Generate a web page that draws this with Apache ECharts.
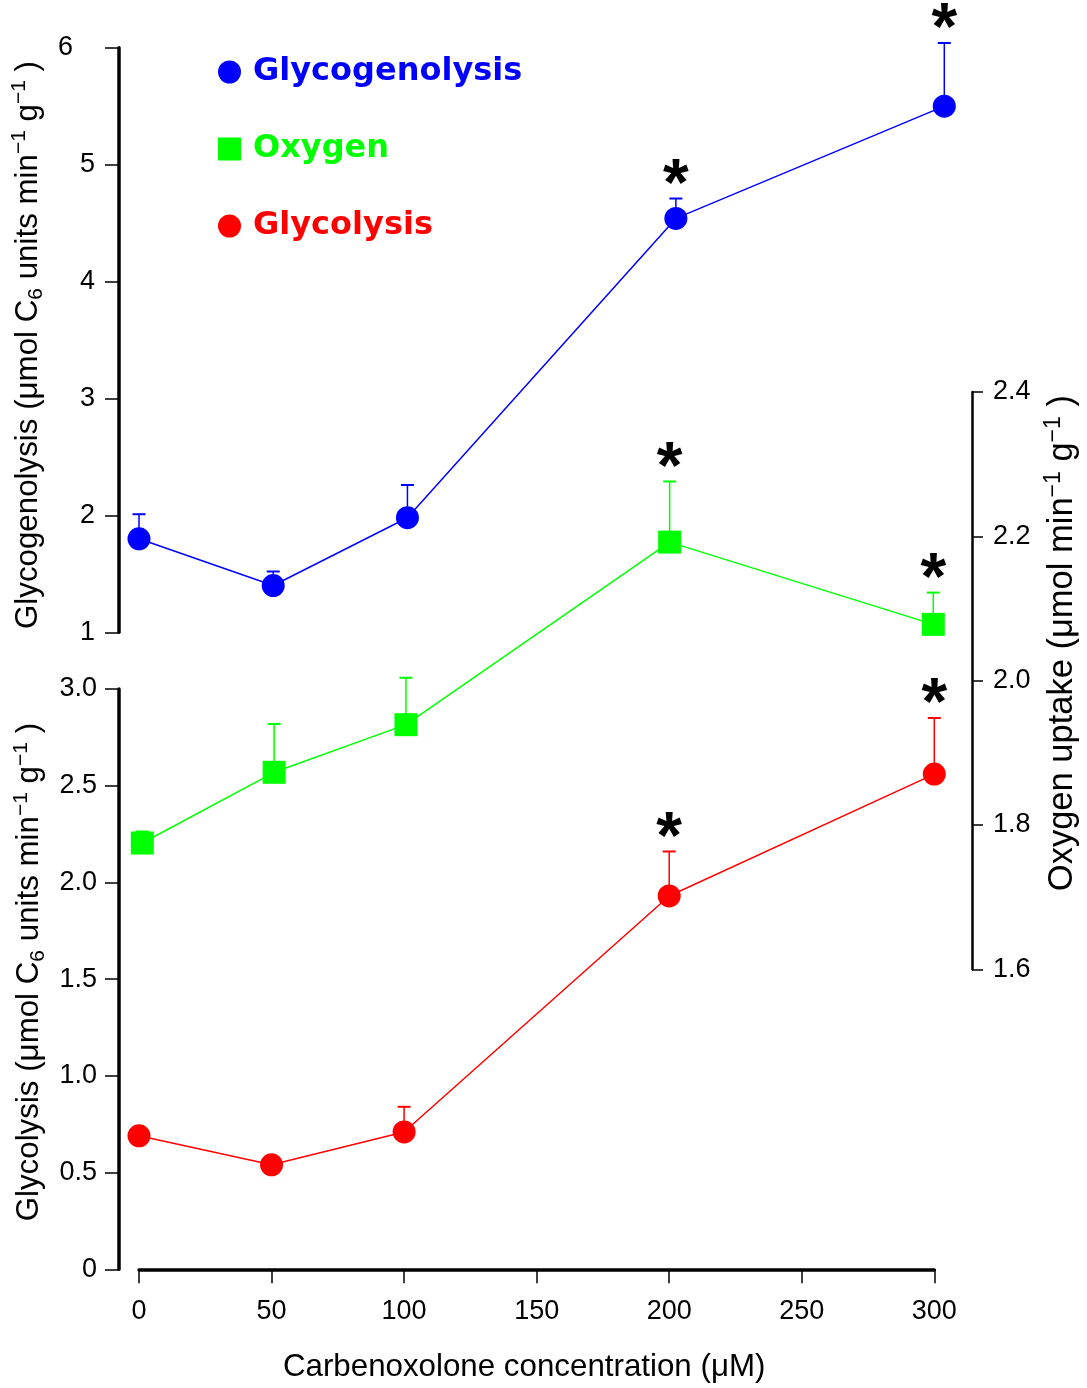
<!DOCTYPE html>
<html><head><meta charset="utf-8">
<script src="https://cdn.jsdelivr.net/npm/echarts@6/dist/echarts.min.js"></script>
<style>html,body{margin:0;padding:0;background:#fff}#chart{width:1087px;height:1388px}</style>
</head><body><div id="chart"></div>
<script>
// ---- data ----
const concentrations = [0, 50, 100, 200, 300];
const glycogenolysis = [1.80, 1.40, 1.98, 4.54, 5.50];
const glycogenolysisErr = [0.21, 0.12, 0.28, 0.17, 0.54];
const glycogenolysisSig = [false, false, false, true, true];
const oxygen = [1.775, 1.873, 1.939, 2.192, 2.078];
const oxygenErr = [0.016, 0.067, 0.065, 0.084, 0.044];
const oxygenSig = [false, false, false, true, true];
const glycolysis = [0.69, 0.54, 0.71, 1.93, 2.56];
const glycolysisErr = [0.04, 0.03, 0.13, 0.23, 0.29];
const glycolysisSig = [false, false, false, true, true];
const xTicks = [0, 50, 100, 150, 200, 250, 300];
const glycogenolysisTicks = [1, 2, 3, 4, 5, 6];
const glycolysisTicks = [0, 0.5, 1.0, 1.5, 2.0, 2.5, 3.0];
const oxygenTicks = [1.6, 1.8, 2.0, 2.2, 2.4];

const BLUE = '#0000ff', GREEN = '#00ff00', RED = '#ff0000';
const SANS = '"Liberation Sans", Arial, sans-serif';
const TICK_FS = 27;

const chart = echarts.init(document.getElementById('chart'), null, {renderer: 'canvas'});

function pts(vals) { return concentrations.map((x, i) => [x, vals[i]]); }

function errorSeries(vals, errs, color, gi) {
  return {
    type: 'custom', xAxisIndex: gi, yAxisIndex: gi, z: 2, silent: true,
    data: concentrations.map((x, i) => [x, vals[i], errs[i]]),
    renderItem: function (params, api) {
      const x = api.value(0), m = api.value(1), e = api.value(2);
      const p0 = api.coord([x, m]);
      const p1 = api.coord([x, m + e]);
      return {
        type: 'group', children: [
          {type: 'line', shape: {x1: p0[0], y1: p0[1], x2: p1[0], y2: p1[1]}, style: {stroke: color, lineWidth: 1.5}},
          {type: 'line', shape: {x1: p1[0] - 6.5, y1: p1[1], x2: p1[0] + 6.5, y2: p1[1]}, style: {stroke: color, lineWidth: 2}}
        ]
      };
    }
  };
}

function starSeries(vals, errs, sig, gi) {
  const d = [];
  concentrations.forEach((x, i) => { if (sig[i]) d.push([x, vals[i] + errs[i]]); });
  return {
    type: 'custom', xAxisIndex: gi, yAxisIndex: gi, z: 4, silent: true,
    data: d,
    renderItem: function (params, api) {
      const p = api.coord([api.value(0), api.value(1)]);
      return {
        type: 'text', x: p[0], y: p[1] - 12,
        style: {text: '*', fill: '#000', fontSize: 66, fontWeight: 'bold', fontFamily: SANS, align: 'center', verticalAlign: 'middle'}
      };
    }
  };
}

function lineSeries(name, vals, color, symbol, gi) {
  return {
    type: 'line', name: name, xAxisIndex: gi, yAxisIndex: gi, z: 3,
    data: pts(vals), symbol: symbol, symbolSize: 23, showSymbol: true,
    itemStyle: {color: color}, lineStyle: {color: color, width: 1.5},
    emphasis: {disabled: true}
  };
}

function titleStyle(size, extra) {
  const sup = Math.round(size * 0.66);
  return Object.assign({
    fontFamily: SANS, fontSize: size, lineHeight: Math.round(size * 1.2), color: '#000',
    rich: {
      sup: {fontFamily: SANS, fontSize: sup, lineHeight: sup, verticalAlign: 'top', color: '#000'},
      sub: {fontFamily: SANS, fontSize: sup, lineHeight: sup, verticalAlign: 'bottom', color: '#000'}
    }
  }, extra || {});
}

const axisBase = {
  type: 'value',
  splitLine: {show: false},
  axisLine: {show: true, onZero: false, lineStyle: {color: '#000', width: 3.5}},
  axisTick: {show: true, length: 14, lineStyle: {color: '#000', width: 1.5}},
  axisLabel: {color: '#000', fontSize: TICK_FS, fontFamily: SANS}
};

const option = {
  animation: false,
  backgroundColor: '#fff',
  grid: [
    {left: 139, top: 47.7, width: 805.3, height: 584.6, containLabel: false, outerBoundsMode: 'none'},
    {left: 139, top: 689, width: 795.3, height: 580.3, containLabel: false, outerBoundsMode: 'none'},
    {left: 142.3, top: 392, width: 791, height: 577.3, containLabel: false, outerBoundsMode: 'none'}
  ],
  legend: {
    orient: 'vertical', left: 213, top: 51, itemWidth: 23, itemHeight: 23, itemGap: 45,
    selectedMode: false,
    textStyle: {fontFamily: '"DejaVu Sans", Verdana, sans-serif', fontWeight: 'bold', fontSize: 32, lineHeight: 32, padding: [0, 0, 0, 7]},
    data: [
      {name: 'Glycogenolysis', icon: 'circle', textStyle: {color: BLUE}},
      {name: 'Oxygen', icon: 'rect', textStyle: {color: GREEN}},
      {name: 'Glycolysis', icon: 'circle', textStyle: {color: RED}}
    ]
  },
  xAxis: [
    {gridIndex: 0, type: 'value', min: 0, max: 300, show: false},
    Object.assign({}, axisBase, {
      gridIndex: 1, min: xTicks[0], max: xTicks[xTicks.length - 1], interval: xTicks[1] - xTicks[0],
      axisLabel: Object.assign({}, axisBase.axisLabel, {margin: 29}),
      name: 'Carbenoxolone concentration (μM)', nameLocation: 'middle', nameGap: 83,
      nameTextStyle: {fontFamily: SANS, fontSize: 31.3, color: '#000', padding: [0, 25, 0, 0]}
    }),
    {gridIndex: 2, type: 'value', min: 0, max: 300, show: false}
  ],
  yAxis: [
    Object.assign({}, axisBase, {
      gridIndex: 0, position: 'left', offset: 20,
      min: glycogenolysisTicks[0], max: glycogenolysisTicks[glycogenolysisTicks.length - 1],
      interval: glycogenolysisTicks[1] - glycogenolysisTicks[0],
      axisLabel: Object.assign({}, axisBase.axisLabel, {
        margin: 24,
        formatter: v => v === 6 ? '{six|6}' : String(v),
        rich: {six: {fontSize: TICK_FS, fontFamily: SANS, color: '#000', padding: [0, 22, 0, 0]}}
      }),
      name: 'Glycogenolysis (μmol C{sub|6} units min{sup|−1} g{sup|−1} )',
      nameLocation: 'middle', nameRotate: 90, nameGap: 67, nameTextStyle: titleStyle(31.3, {padding: [0, 10, 0, 0]})
    }),
    Object.assign({}, axisBase, {
      gridIndex: 1, position: 'left', offset: 20,
      min: glycolysisTicks[0], max: glycolysisTicks[glycolysisTicks.length - 1],
      interval: glycolysisTicks[1] - glycolysisTicks[0],
      axisLabel: Object.assign({}, axisBase.axisLabel, {
        margin: 22, formatter: v => v === 0 ? '0' : v.toFixed(1)
      }),
      name: 'Glycolysis (μmol C{sub|6} units min{sup|−1} g{sup|−1} )',
      nameLocation: 'middle', nameRotate: 90, nameGap: 67,
      nameTextStyle: titleStyle(31.3, {padding: [0, 0, 0, 14]})
    }),
    Object.assign({}, axisBase, {
      gridIndex: 2, position: 'right', offset: 38.7,
      min: oxygenTicks[0], max: oxygenTicks[oxygenTicks.length - 1],
      interval: 0.2,
      axisLine: {show: true, onZero: false, lineStyle: {color: '#000', width: 2.5}},
      axisTick: {show: true, length: 11, lineStyle: {color: '#000', width: 1.5}},
      axisLabel: Object.assign({}, axisBase.axisLabel, {margin: 21, formatter: v => v.toFixed(1)}),
      name: 'Oxygen uptake (μmol min{sup|−1} g{sup|−1} )',
      nameLocation: 'middle', nameRotate: 90, nameGap: 70,
      nameTextStyle: titleStyle(34.5, {padding: [0, 0, 0, 75]})
    })
  ],
  series: [
    errorSeries(glycogenolysis, glycogenolysisErr, BLUE, 0),
    errorSeries(glycolysis, glycolysisErr, RED, 1),
    errorSeries(oxygen, oxygenErr, GREEN, 2),
    lineSeries('Glycogenolysis', glycogenolysis, BLUE, 'circle', 0),
    lineSeries('Oxygen', oxygen, GREEN, 'rect', 2),
    lineSeries('Glycolysis', glycolysis, RED, 'circle', 1),
    starSeries(glycogenolysis, glycogenolysisErr, glycogenolysisSig, 0),
    starSeries(oxygen, oxygenErr, oxygenSig, 2),
    starSeries(glycolysis, glycolysisErr, glycolysisSig, 1)
  ]
};
chart.setOption(option);
</script>
</body></html>
